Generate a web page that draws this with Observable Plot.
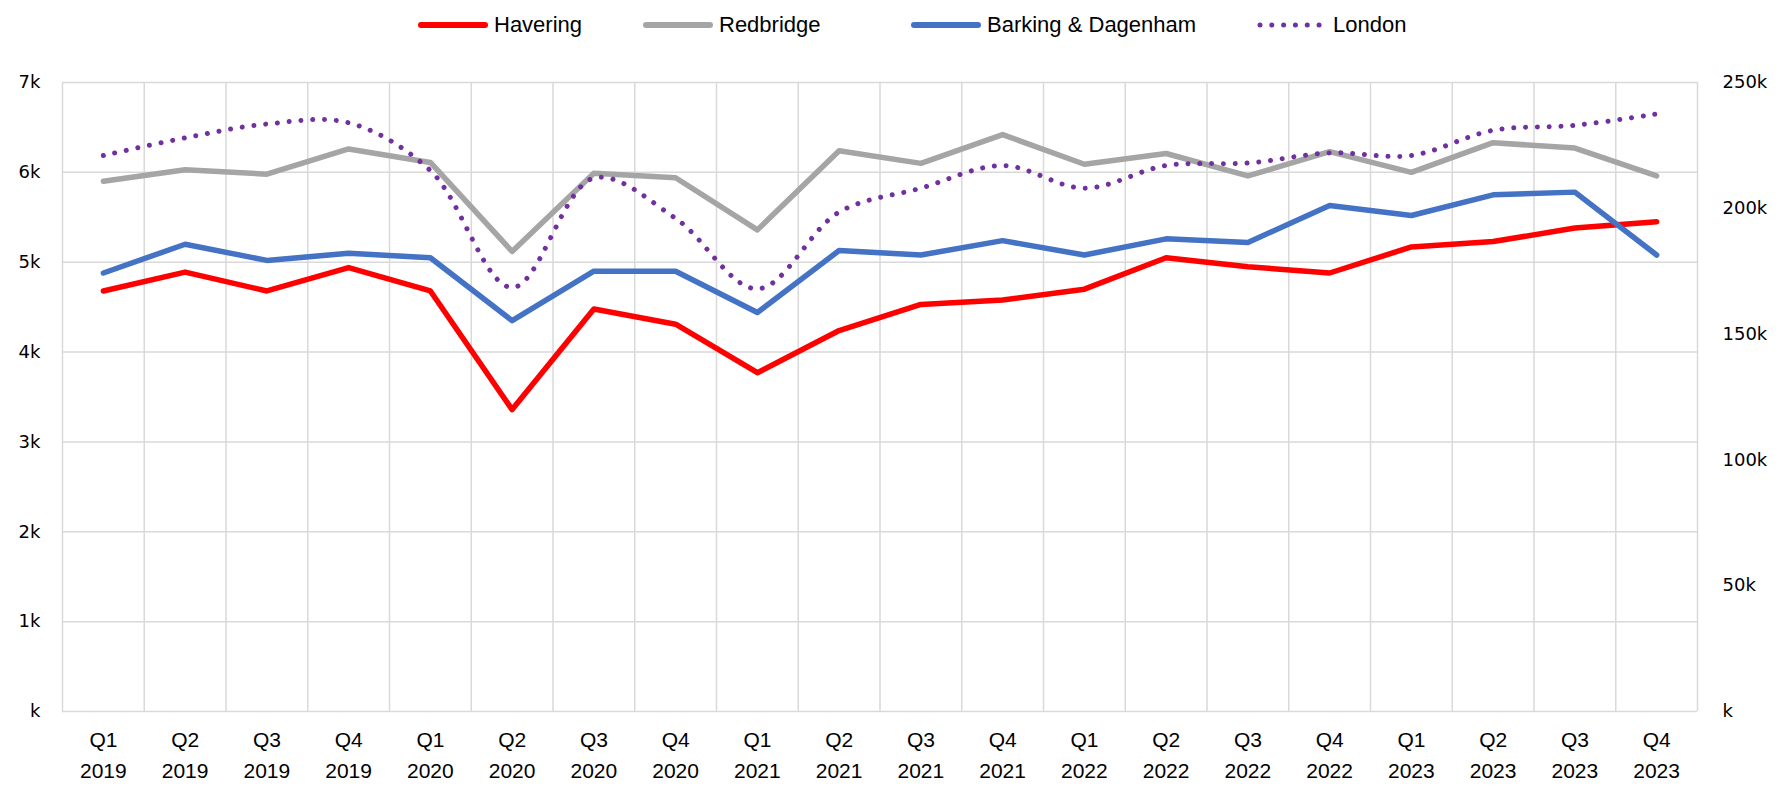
<!DOCTYPE html>
<html>
<head>
<meta charset="utf-8">
<script src="https://cdn.jsdelivr.net/npm/d3@7"></script>
<script src="https://cdn.jsdelivr.net/npm/@observablehq/plot@0.6"></script>
<style>
  html, body { margin: 0; padding: 0; background: #fff; }
  #legend { position: relative; height: 50px; width: 1787px; font-family: "Liberation Sans", Arial, sans-serif; font-size: 22px; color: #000; }
  .item { position: absolute; top: 0; height: 50px; display: flex; align-items: center; }
  .item svg { margin-right: 5px; }
  #chart svg { display: block; }
</style>
</head>
<body>
<div id="legend"></div>
<div id="chart"></div>
<script>
const quarterLabels = ["Q1","Q2","Q3","Q4","Q1","Q2","Q3","Q4","Q1","Q2","Q3","Q4","Q1","Q2","Q3","Q4","Q1","Q2","Q3","Q4"];
const yearLabels = ["2019","2019","2019","2019","2020","2020","2020","2020","2021","2021","2021","2021","2022","2022","2022","2022","2023","2023","2023","2023"];
const havering  = [4680, 4890, 4680, 4940, 4680, 3360, 4480, 4310, 3770, 4240, 4530, 4580, 4700, 5050, 4950, 4880, 5170, 5230, 5380, 5450];
const redbridge = [5900, 6030, 5980, 6260, 6110, 5120, 5990, 5940, 5360, 6240, 6100, 6420, 6090, 6210, 5960, 6230, 6000, 6330, 6270, 5960];
const barking   = [4880, 5200, 5020, 5100, 5050, 4350, 4900, 4900, 4440, 5130, 5080, 5240, 5080, 5260, 5220, 5630, 5520, 5750, 5780, 5080];
const london    = [221000, 228000, 233500, 234000, 215000, 168500, 212000, 196000, 168000, 198500, 208000, 217000, 208000, 217000, 218000, 222000, 221000, 231000, 233000, 237500];
const leftTicks  = [0, 1000, 2000, 3000, 4000, 5000, 6000, 7000];
const rightTicks = [0, 50000, 100000, 150000, 200000, 250000];
const seriesNames  = ["Havering", "Redbridge", "Barking & Dagenham", "London"];
const seriesColors = ["#FF0000", "#A5A5A5", "#4472C4", "#7030A0"];

const leftMax = 7000, rightMax = 250000;
const toLeft = v => v * leftMax / rightMax;
const kFmt = v => v === 0 ? "k" : (v / 1000) + "k";
const idx = d3.range(quarterLabels.length);

// Legend
const legendLefts = [417, 642, 910, 1256];
const legend = document.getElementById("legend");
seriesNames.forEach((name, k) => {
  const div = document.createElement("div");
  div.className = "item";
  div.style.left = legendLefts[k] + "px";
  const dotted = k === 3;
  div.innerHTML = `<svg width="72" height="12"><line x1="4" y1="6" x2="68" y2="6" stroke="${seriesColors[k]}" stroke-width="${dotted ? 5 : 6}" stroke-linecap="round" ${dotted ? 'stroke-dasharray="0.01 11.8"' : ''}/></svg><span>${name}</span>`;
  legend.appendChild(div);
});

const fontX = "'Liberation Sans', Arial, sans-serif";
const fontY = "'DejaVu Sans', sans-serif";

const chart = Plot.plot({
  width: 1787,
  height: 737,
  marginTop: 32,
  marginBottom: 76,
  marginLeft: 62,
  marginRight: 90,
  style: { background: "#fff", color: "#000", overflow: "visible" },
  x: { domain: [-0.5, quarterLabels.length - 0.5], axis: null },
  y: { domain: [0, leftMax], axis: null },
  marks: [
    Plot.ruleY(leftTicks, { stroke: "#D9D9D9", strokeWidth: 1.5 }),
    Plot.ruleX(d3.range(quarterLabels.length + 1).map(i => i - 0.5), { stroke: "#D9D9D9", strokeWidth: 1.5 }),
    Plot.line(havering,  { x: (d, i) => i, y: d => d, stroke: seriesColors[0], strokeWidth: 5.5 }),
    Plot.line(redbridge, { x: (d, i) => i, y: d => d, stroke: seriesColors[1], strokeWidth: 5.5 }),
    Plot.line(barking,   { x: (d, i) => i, y: d => d, stroke: seriesColors[2], strokeWidth: 5.5 }),
    Plot.line(london,    { x: (d, i) => i, y: d => toLeft(d), stroke: seriesColors[3], strokeWidth: 5, strokeDasharray: "0.01 11.8", strokeLinecap: "round", curve: "catmull-rom" }),
    Plot.axisX(idx, { anchor: "bottom", tickSize: 0, tickPadding: 14, label: null, tickFormat: i => quarterLabels[i] + "\n" + yearLabels[i], fontSize: 21, lineHeight: 1.47, fontFamily: fontX }),
    Plot.axisY(leftTicks, { anchor: "left", tickSize: 0, tickPadding: 22, label: null, tickFormat: kFmt, fontSize: 18, fontFamily: fontY }),
    Plot.axisY(rightTicks.map(toLeft), { anchor: "right", tickSize: 0, tickPadding: 25, label: null, tickFormat: v => kFmt(Math.round(v * rightMax / leftMax)), fontSize: 18, fontFamily: fontY })
  ]
});
document.getElementById("chart").appendChild(chart);
</script>
</body>
</html>
